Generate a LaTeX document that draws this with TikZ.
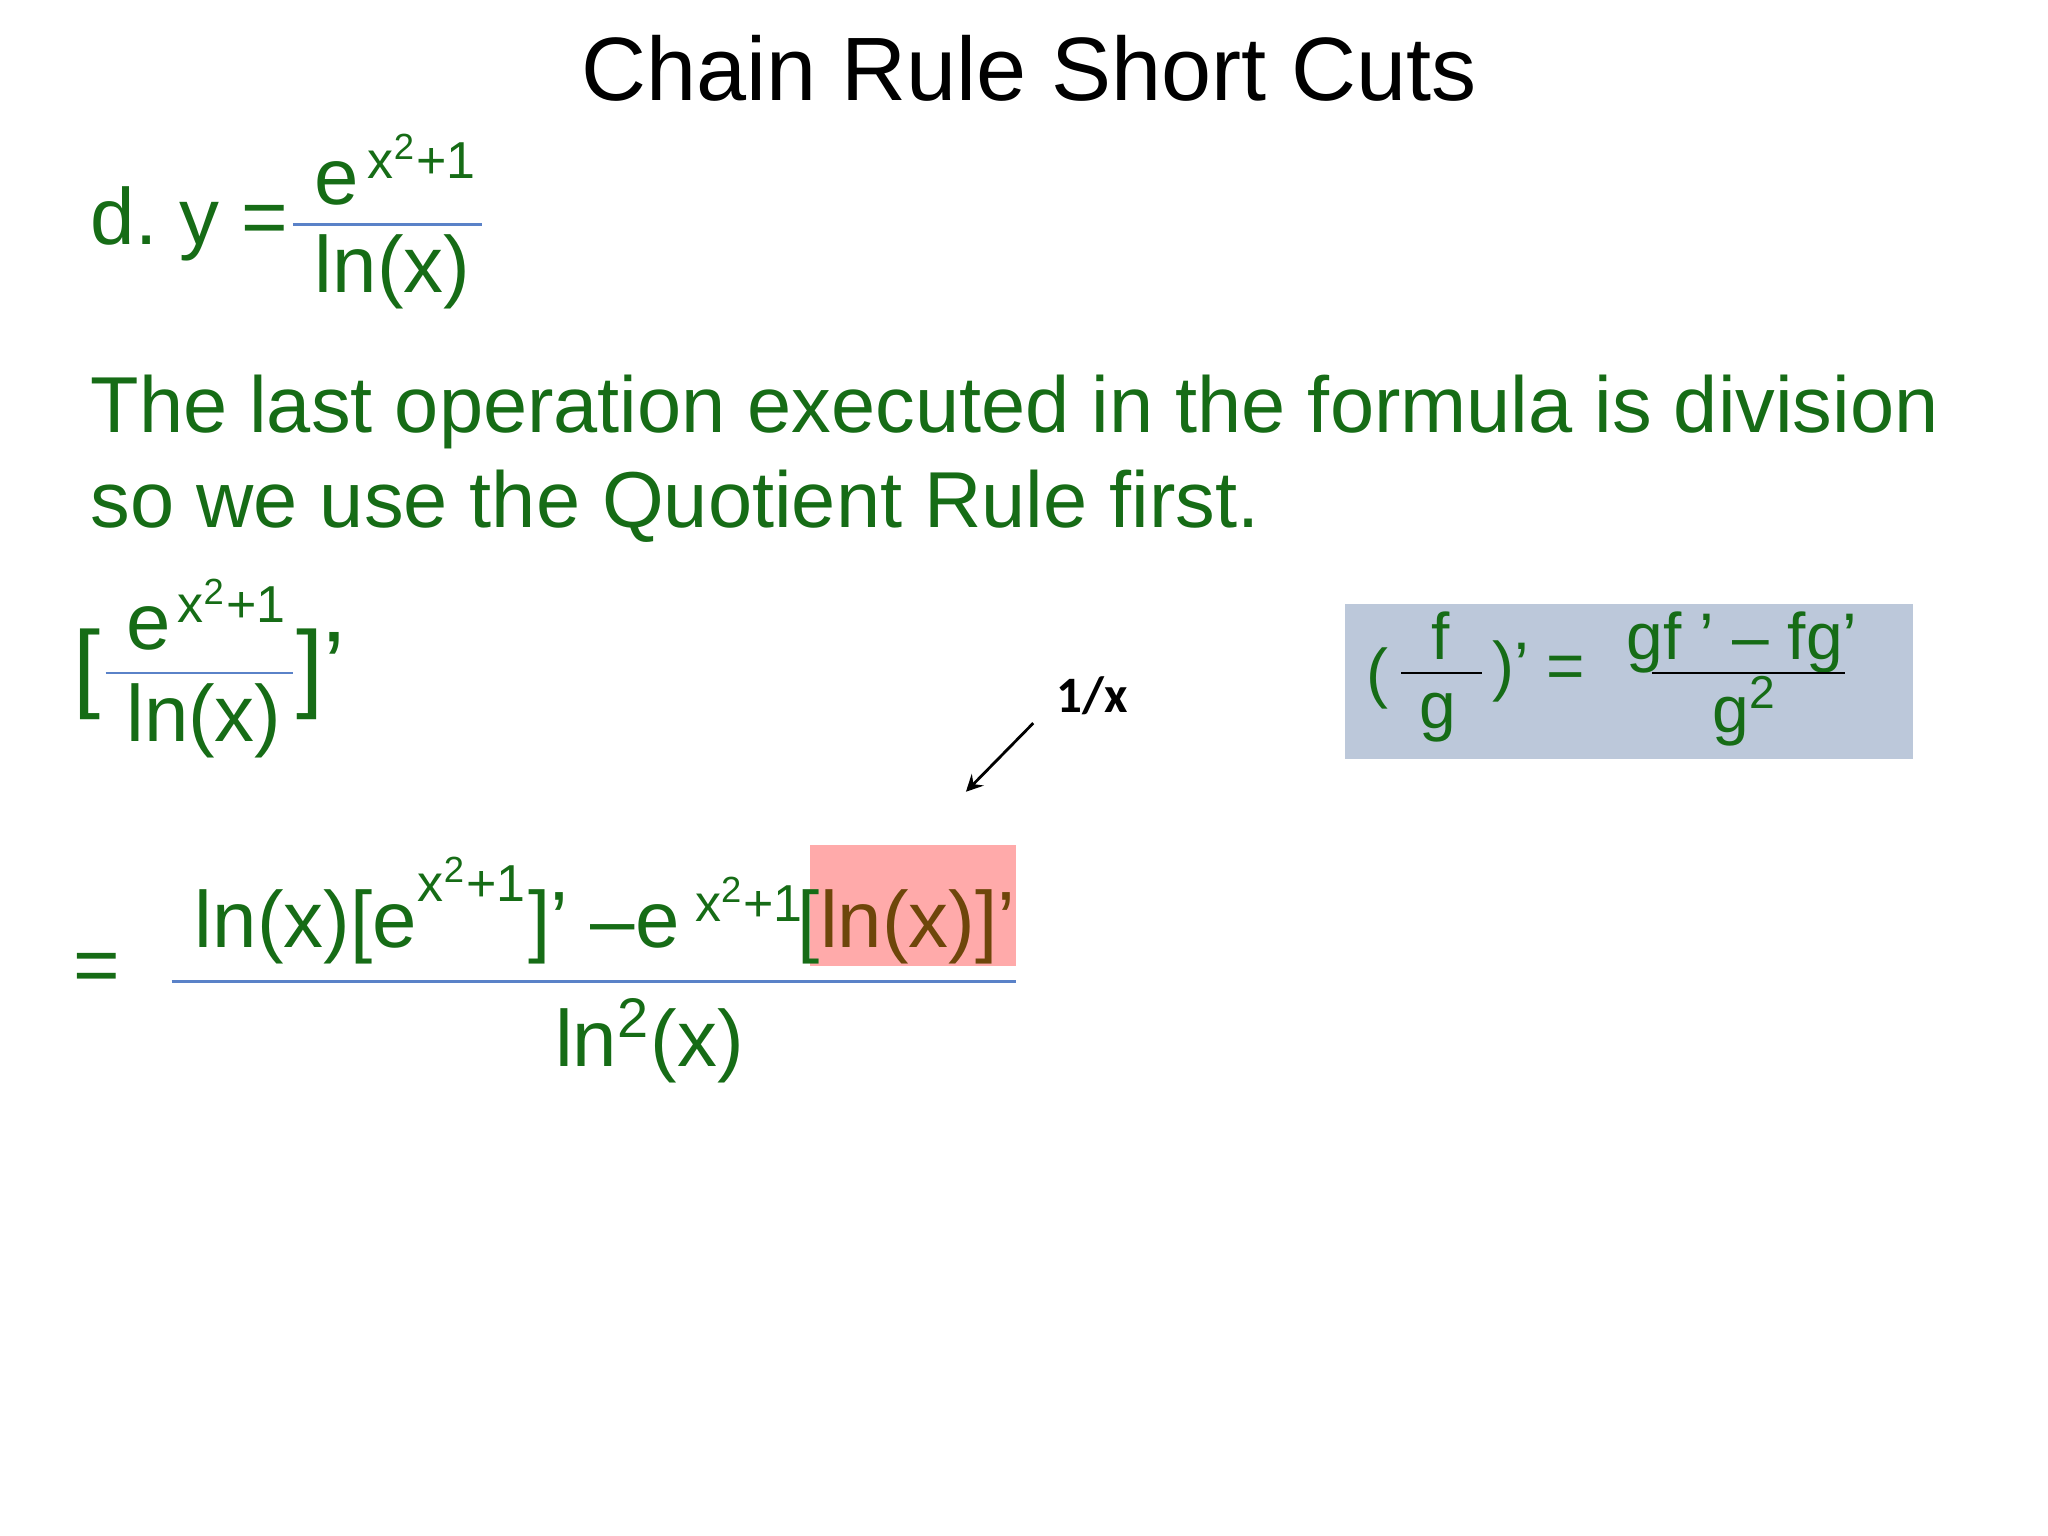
\documentclass[tikz,border=0pt]{standalone}
\usepackage{fontspec}
\setmainfont{Liberation Sans}
\newfontfamily\calib{Carlito}
\newcommand{\pr}{\char"0027\relax}
\definecolor{gr}{RGB}{22,108,22}
\definecolor{bx}{RGB}{188,200,218}
\definecolor{pk}{RGB}{255,170,170}
\definecolor{brn}{RGB}{110,70,10}
\definecolor{ln}{RGB}{90,130,200}
\begin{document}
\begin{tikzpicture}[x=0.01cm,y=-0.01cm,
  t/.style={inner sep=0pt,anchor=base west,text=gr,font=\fontsize{17.2}{21}\selectfont},
  s/.style={inner sep=0pt,anchor=base west,text=gr,font=\fontsize{11.2}{14}\selectfont},
  b/.style={inner sep=0pt,anchor=base west,text=gr,font=\fontsize{14.2}{17}\selectfont},
  fl/.style={draw=ln,line width=0.6pt}]
\useasboundingbox (0,0) rectangle (1552,1164);
\coordinate (bx1) at (1019,458); \coordinate (bx2) at (1450,575);
\fill[bx] (bx1) rectangle (bx2);
\coordinate (pk1) at (614,640); \coordinate (pk2) at (770,732);
\fill[pk] (pk1) rectangle (pk2);
\node[inner sep=0pt,font=\fontsize{19.4}{24}\selectfont] (title) at (780,52) {Chain Rule Short Cuts};
% d.
\node[t] (d) at (68,185) {d.~y =};
\node[t] (n1) at (238,155) {e};
\node[s] (n1s) at (278,135) {x\textsuperscript{2}+1};
\coordinate (f1a) at (222,170); \coordinate (f1b) at (365,170);
\draw[fl] (f1a) -- (f1b);
\node[t] (d1) at (238,222) {ln(x)};
% paragraph
\node[t,font=\fontsize{17.1}{20}\selectfont] (p1) at (68,328) {The last operation executed in the formula is division};
\node[t,font=\fontsize{17.1}{20}\selectfont] (p2) at (68,400) {so we use the Quotient Rule first.};
% bracket fraction
\node[t,font=\fontsize{21}{25}\selectfont] (lb) at (55,530) {[};
\node[t] (n2) at (95,492) {e};
\node[s] (n2s) at (134,472) {x\textsuperscript{2}+1};
\coordinate (f2a) at (80,510); \coordinate (f2b) at (222,510);
\draw[fl] (f2a) -- (f2b);
\node[t] (d2) at (95,562) {ln(x)};
\node[t,font=\fontsize{21}{25}\selectfont] (rb) at (224,530) {]\pr};
% box
\node[b] (bp) at (1035,527) {(};
\node[b] (bf) at (1084,500) {f};
\coordinate (f3a) at (1062,510); \coordinate (f3b) at (1123,510);
\draw[black,line width=0.6pt] (f3a) -- (f3b);
\node[b] (bg) at (1075,552) {g};
\node[b] (bq) at (1130,522) {)\pr{} =};
\node[b] (bn) at (1232,500) {gf \pr{} -- fg\pr};
\coordinate (f4a) at (1252,510); \coordinate (f4b) at (1398,510);
\draw[black,line width=0.6pt] (f4a) -- (f4b);
\node[b] (bd) at (1297,555) {g\textsuperscript{2}};
% 1/x
\node[inner sep=0pt,anchor=base west,font=\calib\bfseries\fontsize{11}{13}\selectfont] (ox) at (800,540) {1/x};
\coordinate (aa) at (783,548); \coordinate (ab) at (732,600);
\draw[-stealth,line width=0.6pt] (aa) -- (ab);
% main
\node[t] (eq) at (55,752) {=};
\node[t] (m1) at (147,718) {ln(x)[e};
\node[s] (m1s) at (316,683) {x\textsuperscript{2}+1};
\node[t] (m2) at (400,718) {]\pr{} --e};
\node[s] (m2s) at (526,698) {x\textsuperscript{2}+1};
\node[t] (m3) at (604,718) {[\textcolor{brn}{ln(x)]\pr}};
\coordinate (f5a) at (130,744); \coordinate (f5b) at (770,744);
\draw[fl] (f5a) -- (f5b);
\node[t] (m4) at (420,808) {ln\textsuperscript{2}(x)};
\end{tikzpicture}
\end{document}
